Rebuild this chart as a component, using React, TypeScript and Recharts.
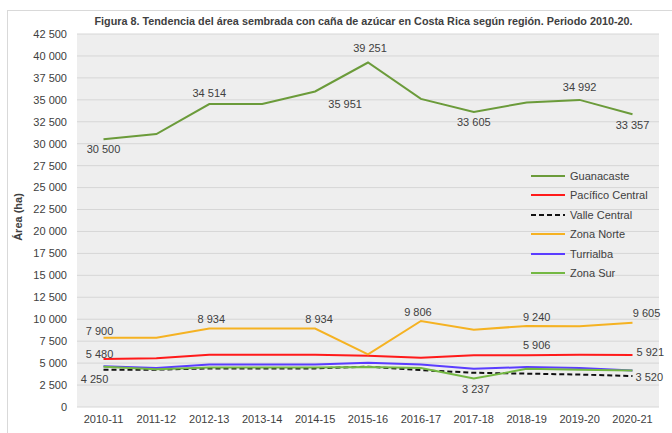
import { LineChart, Line, XAxis, YAxis, CartesianGrid, LabelList } from "recharts";

const categories = [
  "2010-11", "2011-12", "2012-13", "2013-14", "2014-15", "2015-16",
  "2016-17", "2017-18", "2018-19", "2019-20", "2020-21",
];

const guanacaste = [30500, 31100, 34514, 34514, 35951, 39251, 35100, 33605, 34700, 34992, 33357];
const pacificoCentral = [5480, 5550, 5950, 5950, 5950, 5850, 5600, 5906, 5906, 5950, 5921];
const valleCentral = [4250, 4250, 4400, 4400, 4400, 4600, 4200, 3900, 3800, 3700, 3520];
const zonaNorte = [7900, 7900, 8934, 8934, 8934, 6000, 9806, 8800, 9240, 9200, 9605];
const turrialba = [4650, 4450, 4850, 4850, 4850, 5050, 4850, 4350, 4550, 4450, 4150];
const zonaSur = [4600, 4300, 4500, 4500, 4500, 4550, 4450, 3237, 4350, 4250, 4150];

const yTicks = [0, 2500, 5000, 7500, 10000, 12500, 15000, 17500, 20000, 22500, 25000, 27500, 30000, 32500, 35000, 37500, 40000, 42500];

const series = [
  { key: "guanacaste", name: "Guanacaste", color: "#6b9b3a", dash: undefined as string | undefined },
  { key: "pacificoCentral", name: "Pacífico Central", color: "#ff1a1a", dash: undefined },
  { key: "valleCentral", name: "Valle Central", color: "#111111", dash: "5 3" },
  { key: "zonaNorte", name: "Zona Norte", color: "#f5b222", dash: undefined },
  { key: "turrialba", name: "Turrialba", color: "#5a3dff", dash: undefined },
  { key: "zonaSur", name: "Zona Sur", color: "#74b843", dash: undefined },
];

// which points carry a value label: [index, dx, dy, anchor]
const labelSpots: Record<string, [number, number, number, string][]> = {
  guanacaste: [[0, 0, 10, "middle"], [2, 0, -11, "middle"], [4, 30, 13, "middle"], [5, 2, -15, "middle"], [7, 0, 10, "middle"], [9, 0, -13, "middle"], [10, 0, 11, "middle"]],
  zonaNorte: [[0, -4, -7, "middle"], [2, 2, -10, "middle"], [4, 4, -10, "middle"], [6, -3, -9, "middle"], [8, 10, -9, "middle"], [10, 14, -10, "middle"]],
  pacificoCentral: [[0, -4, -5, "middle"], [8, 10, -10, "middle"], [10, 4, -3, "start"]],
  valleCentral: [[0, -9, 9, "middle"], [10, 3, 1, "start"]],
  zonaSur: [[7, 2, 10, "middle"]],
};

const data = categories.map((c, i) => ({
  cat: c,
  guanacaste: guanacaste[i],
  pacificoCentral: pacificoCentral[i],
  valleCentral: valleCentral[i],
  zonaNorte: zonaNorte[i],
  turrialba: turrialba[i],
  zonaSur: zonaSur[i],
}));

const fmt = (v: number) => String(v).replace(/\B(?=(\d{3})+(?!\d))/g, " ");

const FONT = "'Liberation Sans', Arial, sans-serif";
const TEXT = "#404040";

function makeLabel(key: string) {
  const spots = labelSpots[key] || [];
  return (props: any) => {
    const { x, y, value, index } = props;
    const spot = spots.find((s) => s[0] === index);
    if (!spot) return null;
    return (
      <text
        x={Number(x) + spot[1]}
        y={Number(y) + spot[2]}
        textAnchor={spot[3] as any}
        dominantBaseline="central"
        fontSize={11}
        fontFamily={FONT}
        fill={TEXT}
      >
        {fmt(Number(value))}
      </text>
    );
  };
}

export default function App() {
  return (
    <div style={{ position: "absolute", left: 0, top: 0, width: 672, height: 433, background: "#fff", fontFamily: FONT }}>
      <div style={{ position: "absolute", left: 7, top: 10, width: 680, height: 440, border: "1px solid #d9d9d9" }} />
      <div
        style={{
          position: "absolute", left: 0, width: 727, top: 15, textAlign: "center",
          fontSize: 10.8, fontWeight: "bold", color: TEXT, whiteSpace: "nowrap",
        }}
      >
        Figura 8. Tendencia del área sembrada con caña de azúcar en Costa Rica según región. Periodo 2010-20.
      </div>
      <div
        style={{
          position: "absolute", left: 18, top: 217, transform: "translate(-50%, -50%) rotate(-90deg)",
          fontSize: 11, fontWeight: "bold", color: TEXT, whiteSpace: "nowrap",
        }}
      >
        Área (ha)
      </div>
      <div style={{ position: "absolute", left: 0, top: 0 }}>
        <LineChart width={672} height={433} data={data} margin={{ top: 34, right: 13, bottom: 4, left: 0 }}>
          <CartesianGrid vertical={false} stroke="#d6d6d6" fill="#eeeeee" />
          <XAxis
            dataKey="cat"
            height={22}
            axisLine={false}
            tickLine={false}
            tickSize={0}
            tickMargin={8}
            interval={0}
            padding={{ left: 26.5, right: 26.5 }}
            tick={{ fontSize: 11, fill: TEXT, fontFamily: FONT }}
          />
          <YAxis
            width={77}
            domain={[0, 42500]}
            ticks={yTicks}
            interval={0}
            axisLine={false}
            tickLine={false}
            tickSize={0}
            tickMargin={10}
            tickFormatter={fmt}
            tick={{ fontSize: 11, fill: TEXT, fontFamily: FONT }}
          />
          {series.map((s) => (
            <Line
              key={s.key}
              dataKey={s.key}
              name={s.name}
              stroke={s.color}
              strokeWidth={2}
              strokeDasharray={s.dash}
              dot={false}
              activeDot={false}
              type="linear"
              isAnimationActive={false}
            >
              <LabelList dataKey={s.key} content={makeLabel(s.key)} />
            </Line>
          ))}
        </LineChart>
      </div>
      <div style={{ position: "absolute", left: 531, top: 166 }}>
        {series.map((s) => (
          <div key={s.key} style={{ display: "flex", alignItems: "center", height: 19.5 }}>
            <svg width={34} height={4} style={{ marginRight: 5 }}>
              <line x1={0} y1={2} x2={34} y2={2} stroke={s.color} strokeWidth={2} strokeDasharray={s.dash} />
            </svg>
            <span style={{ fontSize: 11, color: TEXT, whiteSpace: "nowrap" }}>{s.name}</span>
          </div>
        ))}
      </div>
    </div>
  );
}
